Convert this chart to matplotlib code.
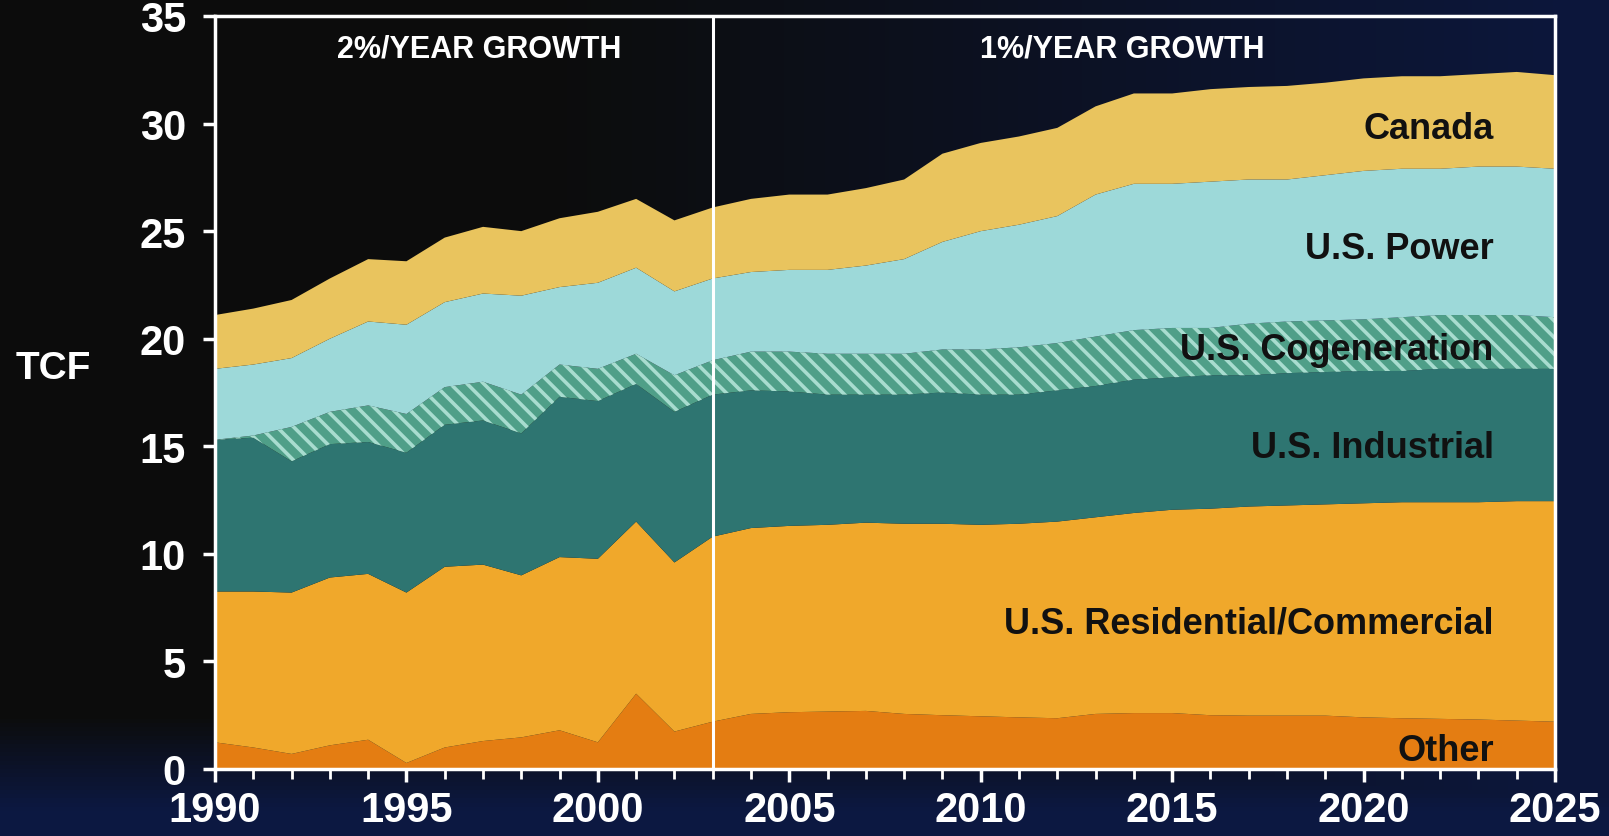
import numpy as np
import matplotlib

matplotlib.use("Agg")

import matplotlib.pyplot as plt
from matplotlib.ticker import MultipleLocator

YEARS = list(range(1990, 2026))

OTHER = [1.24, 1.0, 0.7, 1.1, 1.36, 0.28, 1.0, 1.3, 1.47, 1.8, 1.24, 3.5, 1.74, 2.2,
         2.56, 2.64, 2.67, 2.7, 2.56, 2.5, 2.45, 2.4, 2.36, 2.56, 2.6, 2.6, 2.5, 2.48,
         2.48, 2.48, 2.4, 2.36, 2.33, 2.3, 2.25, 2.2]
RESIDENTIAL = [7.01, 7.25, 7.5, 7.8, 7.71, 7.92, 8.4, 8.2, 7.53, 8.05, 8.53, 8.0, 7.86, 8.6,
               8.64, 8.66, 8.68, 8.75, 8.84, 8.9, 8.9, 9.0, 9.14, 9.14, 9.3, 9.45, 9.6, 9.72,
               9.77, 9.82, 9.95, 10.04, 10.07, 10.1, 10.2, 10.25]
INDUSTRIAL = [7.05, 7.15, 6.1, 6.2, 6.13, 6.5, 6.6, 6.7, 6.6, 7.45, 7.33, 6.4, 7.0, 6.6,
              6.4, 6.25, 6.05, 5.95, 6.0, 6.1, 6.05, 6.0, 6.1, 6.1, 6.2, 6.15, 6.2, 6.1,
              6.15, 6.15, 6.15, 6.1, 6.2, 6.2, 6.15, 6.15]
COGENERATION = [0.0, 0.1, 1.6, 1.5, 1.7, 1.8, 1.75, 1.8, 1.8, 1.5, 1.5, 1.4, 1.7, 1.6,
                1.8, 1.85, 1.9, 1.9, 1.9, 2.0, 2.1, 2.2, 2.2, 2.3, 2.3, 2.3, 2.2, 2.4,
                2.4, 2.4, 2.4, 2.5, 2.5, 2.5, 2.5, 2.4]
POWER = [3.3, 3.3, 3.2, 3.4, 3.9, 4.15, 3.95, 4.1, 4.6, 3.6, 4.0, 4.0, 3.9, 3.8,
         3.7, 3.8, 3.9, 4.1, 4.4, 5.0, 5.5, 5.7, 5.9, 6.6, 6.8, 6.7, 6.8, 6.7,
         6.6, 6.75, 6.9, 6.9, 6.8, 6.9, 6.9, 6.9]
CANADA = [2.5, 2.6, 2.7, 2.8, 2.9, 2.95, 3.0, 3.1, 3.0, 3.2, 3.3, 3.2, 3.3, 3.3,
          3.4, 3.5, 3.5, 3.6, 3.7, 4.1, 4.1, 4.1, 4.1, 4.1, 4.2, 4.2, 4.3, 4.3,
          4.35, 4.3, 4.3, 4.3, 4.3, 4.3, 4.4, 4.35]

LABELS = ["Other", "U.S. Residential/Commercial", "U.S. Industrial",
          "U.S. Cogeneration", "U.S. Power", "Canada"]
LABEL_Y = [0.85, 6.8, 14.95, 19.5, 24.2, 29.75]
COLORS = ["#e47d12", "#f0a82b", "#2e7571", "#4f9f88", "#9dd9d9", "#e9c45e"]

PERIODS = ["2%/YEAR GROWTH", "1%/YEAR GROWTH"]
PERIOD_X = [1996.9, 2013.7]
SPLIT_YEAR = 2003

plt.rcParams["font.family"] = ["Liberation Sans", "DejaVu Sans"]
plt.rcParams["hatch.linewidth"] = 2.6

fig = plt.figure(figsize=(16.09, 8.37), dpi=100)

# background: black on the left fading into dark navy on the right / bottom
bg = fig.add_axes([0, 0, 1, 1], zorder=-10)
h, w = 200, 400
yy, xx = np.mgrid[0:1:h * 1j, 0:1:w * 1j]
black = np.array([0.05, 0.05, 0.05])
navy = np.array([0.05, 0.10, 0.28])
mix = np.clip((xx - 0.35) * 1.6, 0, 1) * 0.8
mix = np.maximum(mix, np.clip((yy - 0.86) * 9, 0, 1) * 0.9)
img = black[None, None, :] * (1 - mix[..., None]) + navy[None, None, :] * mix[..., None]
bg.imshow(img, aspect="auto", extent=[0, 1, 0, 1], origin="upper")
bg.axis("off")

ax = fig.add_axes([215 / 1609, 1 - 770 / 837, 1340 / 1609, 753 / 837])
ax.set_facecolor("none")

layers = ax.stackplot(YEARS, OTHER, RESIDENTIAL, INDUSTRIAL, COGENERATION, POWER, CANADA,
                      colors=COLORS, linewidth=0)
layers[3].set_hatch("\\\\")
layers[3].set_edgecolor("#a8dccf")
layers[3].set_linewidth(0)

ax.axvline(SPLIT_YEAR, color="white", linewidth=2.2, zorder=5)

for text, ypos in zip(LABELS, LABEL_Y):
    ax.text(2023.4, ypos, text, ha="right", va="center", fontsize=26,
            fontweight="bold", color="#111111", zorder=6)

for text, xpos in zip(PERIODS, PERIOD_X):
    ax.text(xpos, 33.5, text, ha="center", va="center", fontsize=22,
            fontweight="bold", color="white", zorder=6)

ax.set_xlim(1990, 2025)
ax.set_ylim(0, 35)
ax.xaxis.set_major_locator(MultipleLocator(5))
ax.xaxis.set_minor_locator(MultipleLocator(1))
ax.yaxis.set_major_locator(MultipleLocator(5))

for spine in ax.spines.values():
    spine.set_color("white")
    spine.set_linewidth(2.5)
    spine.set_zorder(7)

ax.tick_params(axis="both", which="major", colors="white", width=2.5, length=9,
               labelsize=30, direction="out")
ax.tick_params(axis="x", which="minor", colors="white", width=2, length=7, direction="out")
ax.tick_params(axis="x", which="major", pad=6)
ax.tick_params(axis="y", which="major", pad=12)
for lbl in ax.get_xticklabels() + ax.get_yticklabels():
    lbl.set_fontweight("bold")

ax.set_ylabel("TCF", rotation=0, fontsize=28, fontweight="bold", color="white",
              va="center")
ax.yaxis.set_label_coords(-0.121, 0.533)

fig.savefig("out.png", dpi=100, facecolor=fig.get_facecolor())
